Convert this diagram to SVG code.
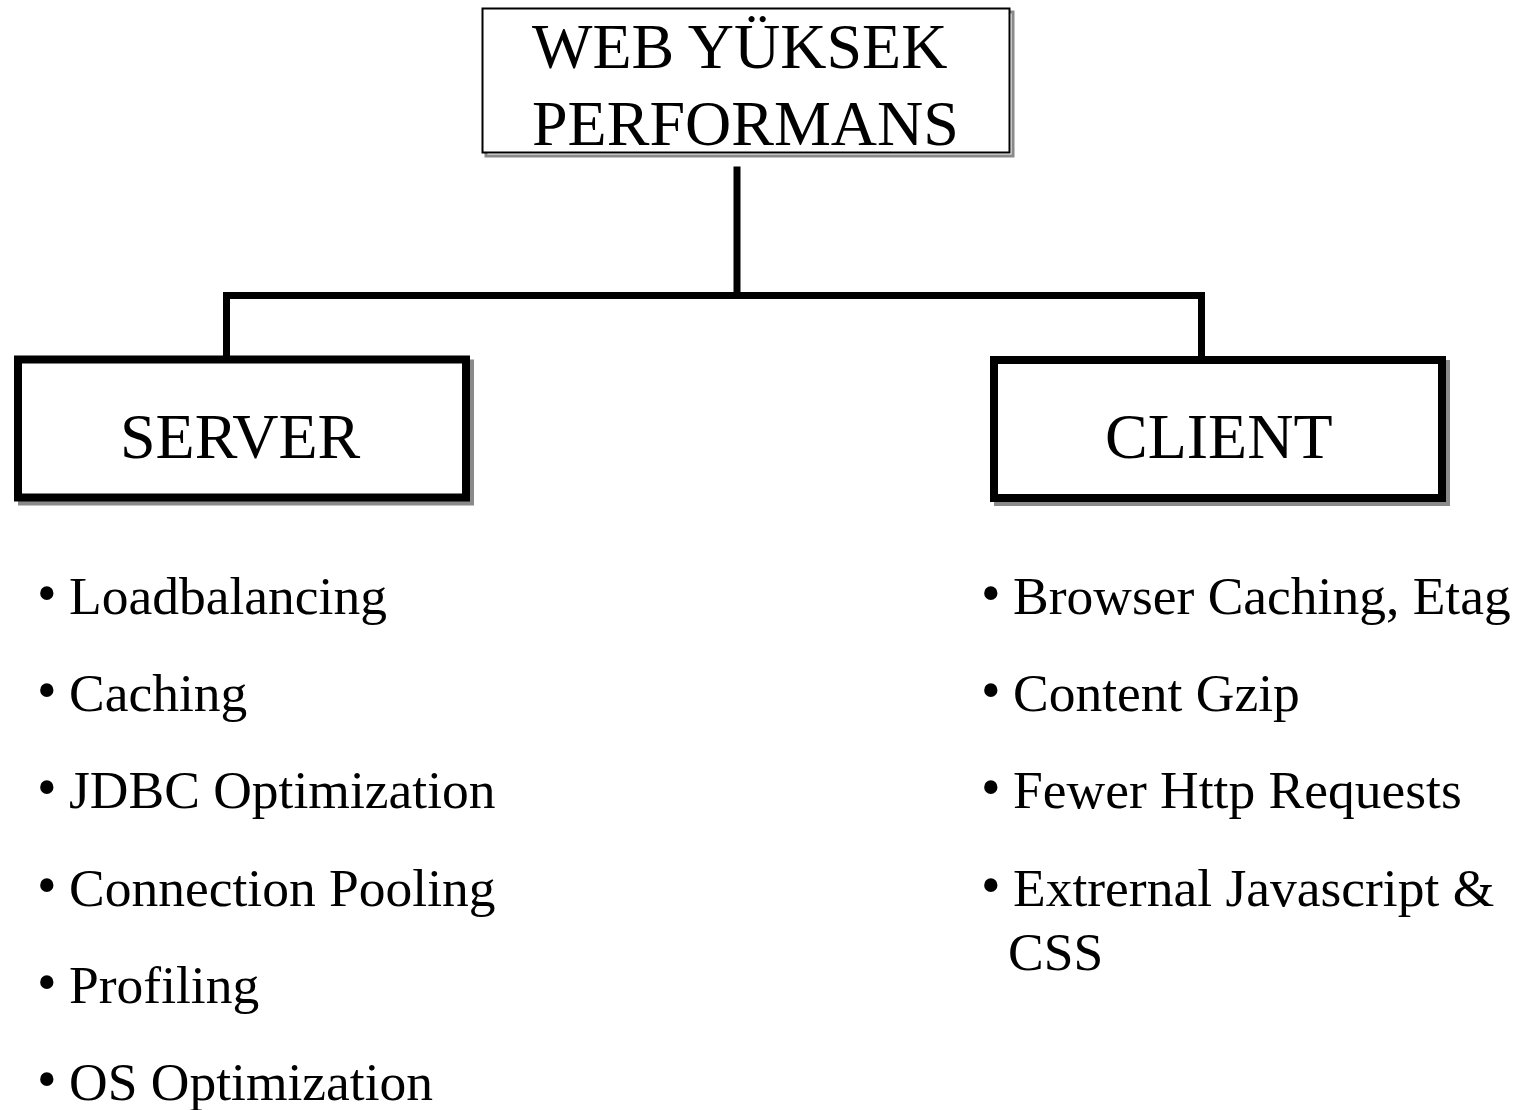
<svg xmlns="http://www.w3.org/2000/svg" width="1515" height="1110" viewBox="0 0 1515 1110">
<style>
text{font-family:"Liberation Serif","Times New Roman",serif;fill:#000}
.title{font-size:64px}
.item{font-size:53.5px}
.bul{font-size:56px}
.shadow{fill:none;stroke:#8a8a8a}
.box{fill:#fff;stroke:#000}
.conn{fill:none;stroke:#000;stroke-width:7;stroke-linejoin:miter;stroke-linecap:square}
</style>
<rect width="1515" height="1110" fill="#fff"/>
<g id="connectors">
<path class="conn" d="M737,170 V295.5"/>
<path class="conn" d="M226.5,358 V295.5 H1201.5 V358"/>
</g>
<g id="root">
<rect class="shadow" x="486" y="12" width="527" height="144" stroke-width="3"/>
<rect class="box" x="482.5" y="8.5" width="527" height="144" stroke-width="2"/>
<text class="title" x="532" y="68">WEB YÜKSEK</text>
<text class="title" x="532" y="145">PERFORMANS</text>
</g>
<g id="server">
<rect class="shadow" x="22" y="363.5" width="448" height="138" stroke-width="8"/>
<rect class="box" x="18" y="359.5" width="448" height="138" stroke-width="8"/>
<text class="title" x="120" y="458">SERVER</text>
</g>
<g id="client">
<rect class="shadow" x="998" y="364" width="448" height="138" stroke-width="8"/>
<rect class="box" x="994" y="360" width="448" height="138" stroke-width="8"/>
<text class="title" x="1105" y="458">CLIENT</text>
</g>
<g id="server-list">
<text class="bul" x="37" y="612">•</text><text class="item" x="69" y="614">Loadbalancing</text>
<text class="bul" x="37" y="709">•</text><text class="item" x="69" y="711">Caching</text>
<text class="bul" x="37" y="806">•</text><text class="item" x="69" y="808">JDBC Optimization</text>
<text class="bul" x="37" y="904">•</text><text class="item" x="69" y="906">Connection Pooling</text>
<text class="bul" x="37" y="1001">•</text><text class="item" x="69" y="1003">Profiling</text>
<text class="bul" x="37" y="1098">•</text><text class="item" x="69" y="1100">OS Optimization</text>
</g>
<g id="client-list">
<text class="bul" x="981" y="612">•</text><text class="item" x="1013" y="614">Browser Caching, Etag</text>
<text class="bul" x="981" y="709">•</text><text class="item" x="1013" y="711">Content Gzip</text>
<text class="bul" x="981" y="806">•</text><text class="item" x="1013" y="808">Fewer Http Requests</text>
<text class="bul" x="981" y="904">•</text><text class="item" x="1013" y="906">Extrernal Javascript &amp;</text>
<text class="item" x="1008" y="970">CSS</text>
</g>
</svg>
